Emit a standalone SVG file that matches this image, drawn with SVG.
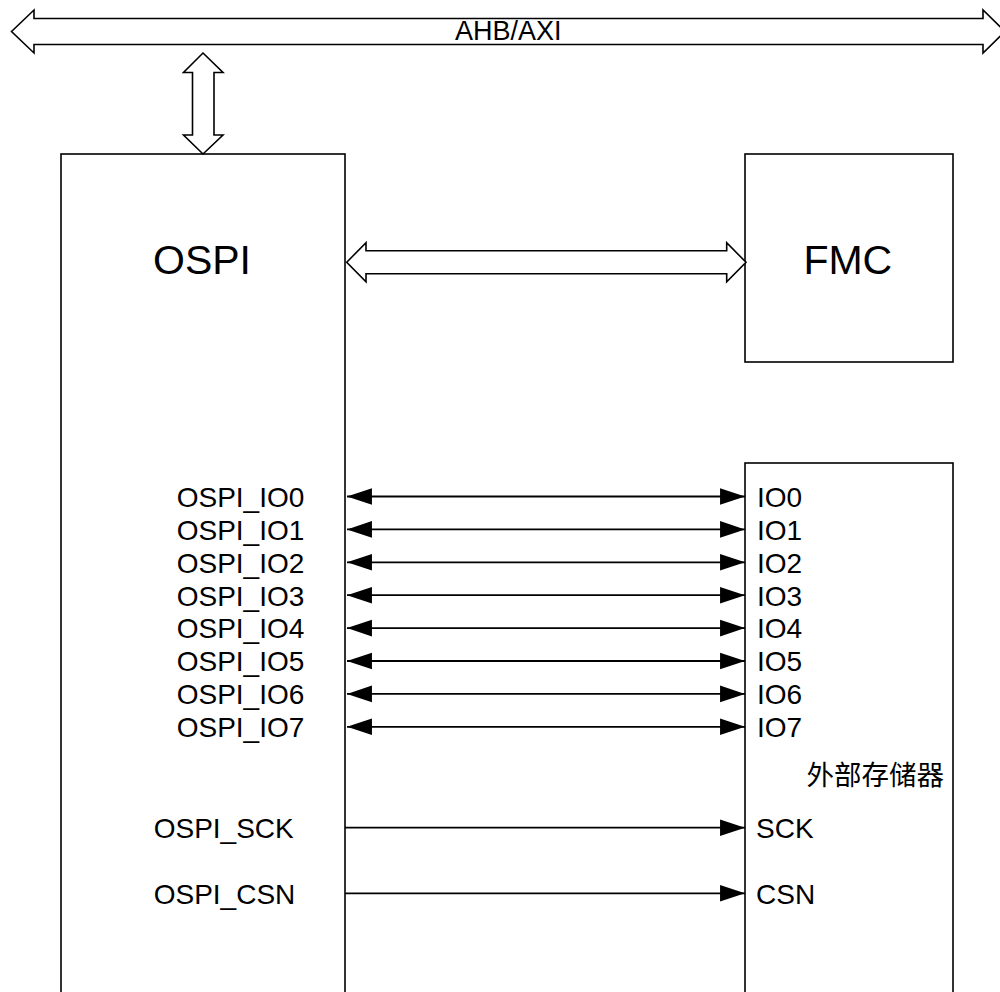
<svg xmlns="http://www.w3.org/2000/svg" width="1000" height="992" viewBox="0 0 1000 992">
  <style>
    .box { fill: #fff; stroke: #000; stroke-width: 1.6; }
    .big { fill: #fff; stroke: #000; stroke-width: 1.6; stroke-linejoin: miter; }
    .wire { fill: none; stroke: #000; stroke-width: 1.8; }
    .t { font-family: "Liberation Sans", Arial, sans-serif; fill: #000; }
    .sig { font-size: 28px; }
    .title { font-size: 41px; }
    .cjk { font-family: "Liberation Sans", "Noto Sans CJK SC", sans-serif; font-size: 27.5px; fill: #000; }
  </style>
  <defs>
    <marker id="ah" markerUnits="userSpaceOnUse" markerWidth="26" markerHeight="18" viewBox="0 -8.5 25 17" refX="24" refY="0" orient="auto-start-reverse">
      <path d="M0,-8 L24,0 L0,8 z" fill="#000"/>
    </marker>
  </defs>
  <rect width="1000" height="992" fill="#fff"/>

  <g id="bus">
    <polygon class="big" points="11.5,31.5 34,10 34,18.5 983,18.5 983,10 1005,31.5 983,53 983,44.5 34,44.5 34,53"/>
    <text class="t" x="455" y="40" font-size="27">AHB/AXI</text>
  </g>

  <g id="ospi">
    <rect class="box" x="61" y="154" width="284" height="860"/>
    <text class="t title" x="153" y="274">OSPI</text>
    <text class="t sig" x="176.7" y="506.8">OSPI_IO0</text>
    <text class="t sig" x="176.7" y="539.7">OSPI_IO1</text>
    <text class="t sig" x="176.7" y="572.6">OSPI_IO2</text>
    <text class="t sig" x="176.7" y="605.5">OSPI_IO3</text>
    <text class="t sig" x="176.7" y="638.4">OSPI_IO4</text>
    <text class="t sig" x="176.7" y="671.3">OSPI_IO5</text>
    <text class="t sig" x="176.7" y="704.2">OSPI_IO6</text>
    <text class="t sig" x="176.7" y="737.1">OSPI_IO7</text>
    <text class="t sig" x="153.7" y="838.3">OSPI_SCK</text>
    <text class="t sig" x="153.7" y="904">OSPI_CSN</text>
  </g>

  <g id="fmc">
    <rect class="box" x="745" y="154" width="208" height="208"/>
    <text class="t title" x="803.4" y="274">FMC</text>
  </g>

  <g id="memory">
    <rect class="box" x="745" y="463" width="208" height="560"/>
    <text class="t sig" x="757" y="506.8">IO0</text>
    <text class="t sig" x="757" y="539.7">IO1</text>
    <text class="t sig" x="757" y="572.6">IO2</text>
    <text class="t sig" x="757" y="605.5">IO3</text>
    <text class="t sig" x="757" y="638.4">IO4</text>
    <text class="t sig" x="757" y="671.3">IO5</text>
    <text class="t sig" x="757" y="704.2">IO6</text>
    <text class="t sig" x="757" y="737.1">IO7</text>
    <text class="cjk" x="944" y="785" text-anchor="end">外部存储器</text>
    <text class="t sig" x="756" y="838.3">SCK</text>
    <text class="t sig" x="756" y="904">CSN</text>
  </g>

  <g id="connectors">
    <polygon class="big" points="203,53 223,72.5 214,72.5 214,135 223,135 203,154 183.5,135 192.5,135 192.5,72.5 183.5,72.5"/>
    <polygon class="big" points="346.7,262.3 366,242.7 366,250.7 726.7,250.7 726.7,242.7 746,262.3 726.7,281.7 726.7,273.7 366,273.7 366,281.7"/>
    <line class="wire" x1="347" y1="496.5" x2="745" y2="496.5" marker-start="url(#ah)" marker-end="url(#ah)"/>
    <line class="wire" x1="347" y1="529.4" x2="745" y2="529.4" marker-start="url(#ah)" marker-end="url(#ah)"/>
    <line class="wire" x1="347" y1="562.3" x2="745" y2="562.3" marker-start="url(#ah)" marker-end="url(#ah)"/>
    <line class="wire" x1="347" y1="595.2" x2="745" y2="595.2" marker-start="url(#ah)" marker-end="url(#ah)"/>
    <line class="wire" x1="347" y1="628.1" x2="745" y2="628.1" marker-start="url(#ah)" marker-end="url(#ah)"/>
    <line class="wire" x1="347" y1="661" x2="745" y2="661" marker-start="url(#ah)" marker-end="url(#ah)"/>
    <line class="wire" x1="347" y1="693.9" x2="745" y2="693.9" marker-start="url(#ah)" marker-end="url(#ah)"/>
    <line class="wire" x1="347" y1="726.8" x2="745" y2="726.8" marker-start="url(#ah)" marker-end="url(#ah)"/>
    <line class="wire" x1="345" y1="827.7" x2="745" y2="827.7" marker-end="url(#ah)"/>
    <line class="wire" x1="345" y1="893.3" x2="745" y2="893.3" marker-end="url(#ah)"/>
  </g>
</svg>
